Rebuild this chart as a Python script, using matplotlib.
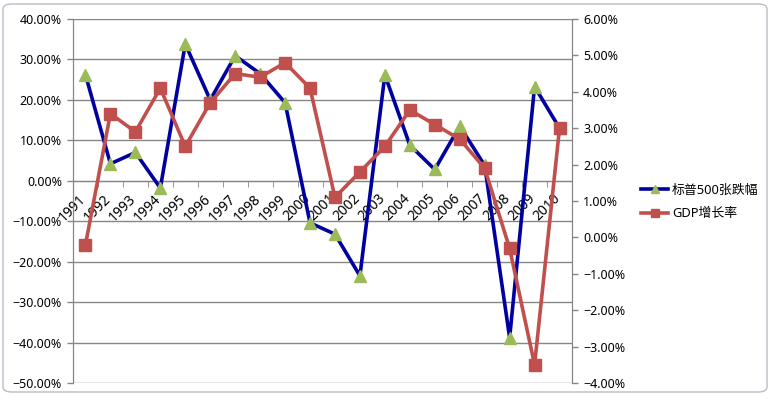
import matplotlib
matplotlib.use("Agg")
import matplotlib.pyplot as plt
from matplotlib.patches import FancyBboxPatch
from matplotlib.ticker import PercentFormatter, FixedLocator
import numpy as np

plt.rcParams['font.family'] = ['Noto Sans', 'Noto Sans CJK SC', 'DejaVu Sans']

years = [str(y) for y in range(1991, 2011)]
sp500 = [26.2, 4.2, 7.0, -1.8, 33.8, 20.0, 30.9, 26.5, 19.3, -10.4,
         -13.2, -23.5, 26.2, 8.8, 2.8, 13.5, 3.8, -38.8, 23.3, 13.0]
gdp = [-0.2, 3.4, 2.9, 4.1, 2.5, 3.7, 4.5, 4.4, 4.8, 4.1,
       1.1, 1.8, 2.5, 3.5, 3.1, 2.7, 1.9, -0.3, -3.5, 3.0]
series_names = ['标普500张跌幅', 'GDP增长率']

W, H = 771, 400
fig = plt.figure(figsize=(W / 100, H / 100), dpi=100)
fig.patch.set_facecolor('white')

# chart frame
frame = FancyBboxPatch((3 / W, 8 / H), 764 / W, 388 / H,
                       boxstyle="round,pad=0,rounding_size=0.012",
                       transform=fig.transFigure, facecolor='none',
                       edgecolor='#B8BEC6', linewidth=1.0, zorder=-5)
fig.patches.append(frame)

left, right, top, bottom = 73, 572, 19, 383
ax = fig.add_axes([left / W, 1 - bottom / H, (right - left) / W, (bottom - top) / H])
ax.set_facecolor('none')
ax2 = ax.twinx()

x = np.arange(len(years))
grid_c = '#868686'

ax.set_xlim(-0.5, len(years) - 0.5)
ax.set_ylim(-50, 40)
ax.yaxis.set_major_locator(FixedLocator(np.arange(-50, 41, 10)))
ax.yaxis.set_major_formatter(PercentFormatter(decimals=2))
ax.grid(axis='y', color=grid_c, linewidth=1.0)
ax.set_axisbelow(True)

ax2.set_ylim(-4, 6)
ax2.yaxis.set_major_locator(FixedLocator(np.arange(-4, 6.1, 1)))
ax2.yaxis.set_major_formatter(PercentFormatter(decimals=2))

for a in (ax, ax2):
    a.spines['top'].set_visible(False)
    a.spines['left'].set_color(grid_c)
    a.spines['right'].set_color(grid_c)
    a.tick_params(axis='y', colors=grid_c, labelcolor='black', length=4,
                  width=1, labelsize=9, pad=4)
ax2.spines['bottom'].set_visible(False)
ax.spines['bottom'].set_position(('data', 0))
ax.spines['bottom'].set_color(grid_c)

ax.set_xticks(x)
ax.set_xticklabels([])
ax.set_xticks(np.arange(-0.5, len(years), 1), minor=True)
ax.tick_params(axis='x', which='major', length=0)
ax.tick_params(axis='x', which='minor', length=4, direction='out', color=grid_c)
for xi, lab in zip(x, years):
    ax.text(xi + 0.15, -2.6, lab, rotation=45, ha='right', va='top',
            fontsize=10, rotation_mode='default')

l1, = ax.plot(x, sp500, color='#0000A0', linewidth=2.6, marker='^',
              markersize=8, markerfacecolor='#9BBB59', markeredgecolor='#9BBB59',
              label=series_names[0], zorder=3)
l2, = ax2.plot(x, gdp, color='#C0504D', linewidth=2.6, marker='s',
               markersize=8, markerfacecolor='#C0504D', markeredgecolor='#C0504D',
               label=series_names[1], zorder=3)

fig.legend([l1, l2], series_names, loc='center left',
           bbox_to_anchor=(641 / W, 1 - 202 / H), frameon=False,
           fontsize=9.3, handlelength=2.1, handletextpad=0.3,
           labelspacing=0.8, borderpad=0, borderaxespad=0, markerscale=0.8)

fig.savefig('out.png', dpi=100, facecolor='white')
